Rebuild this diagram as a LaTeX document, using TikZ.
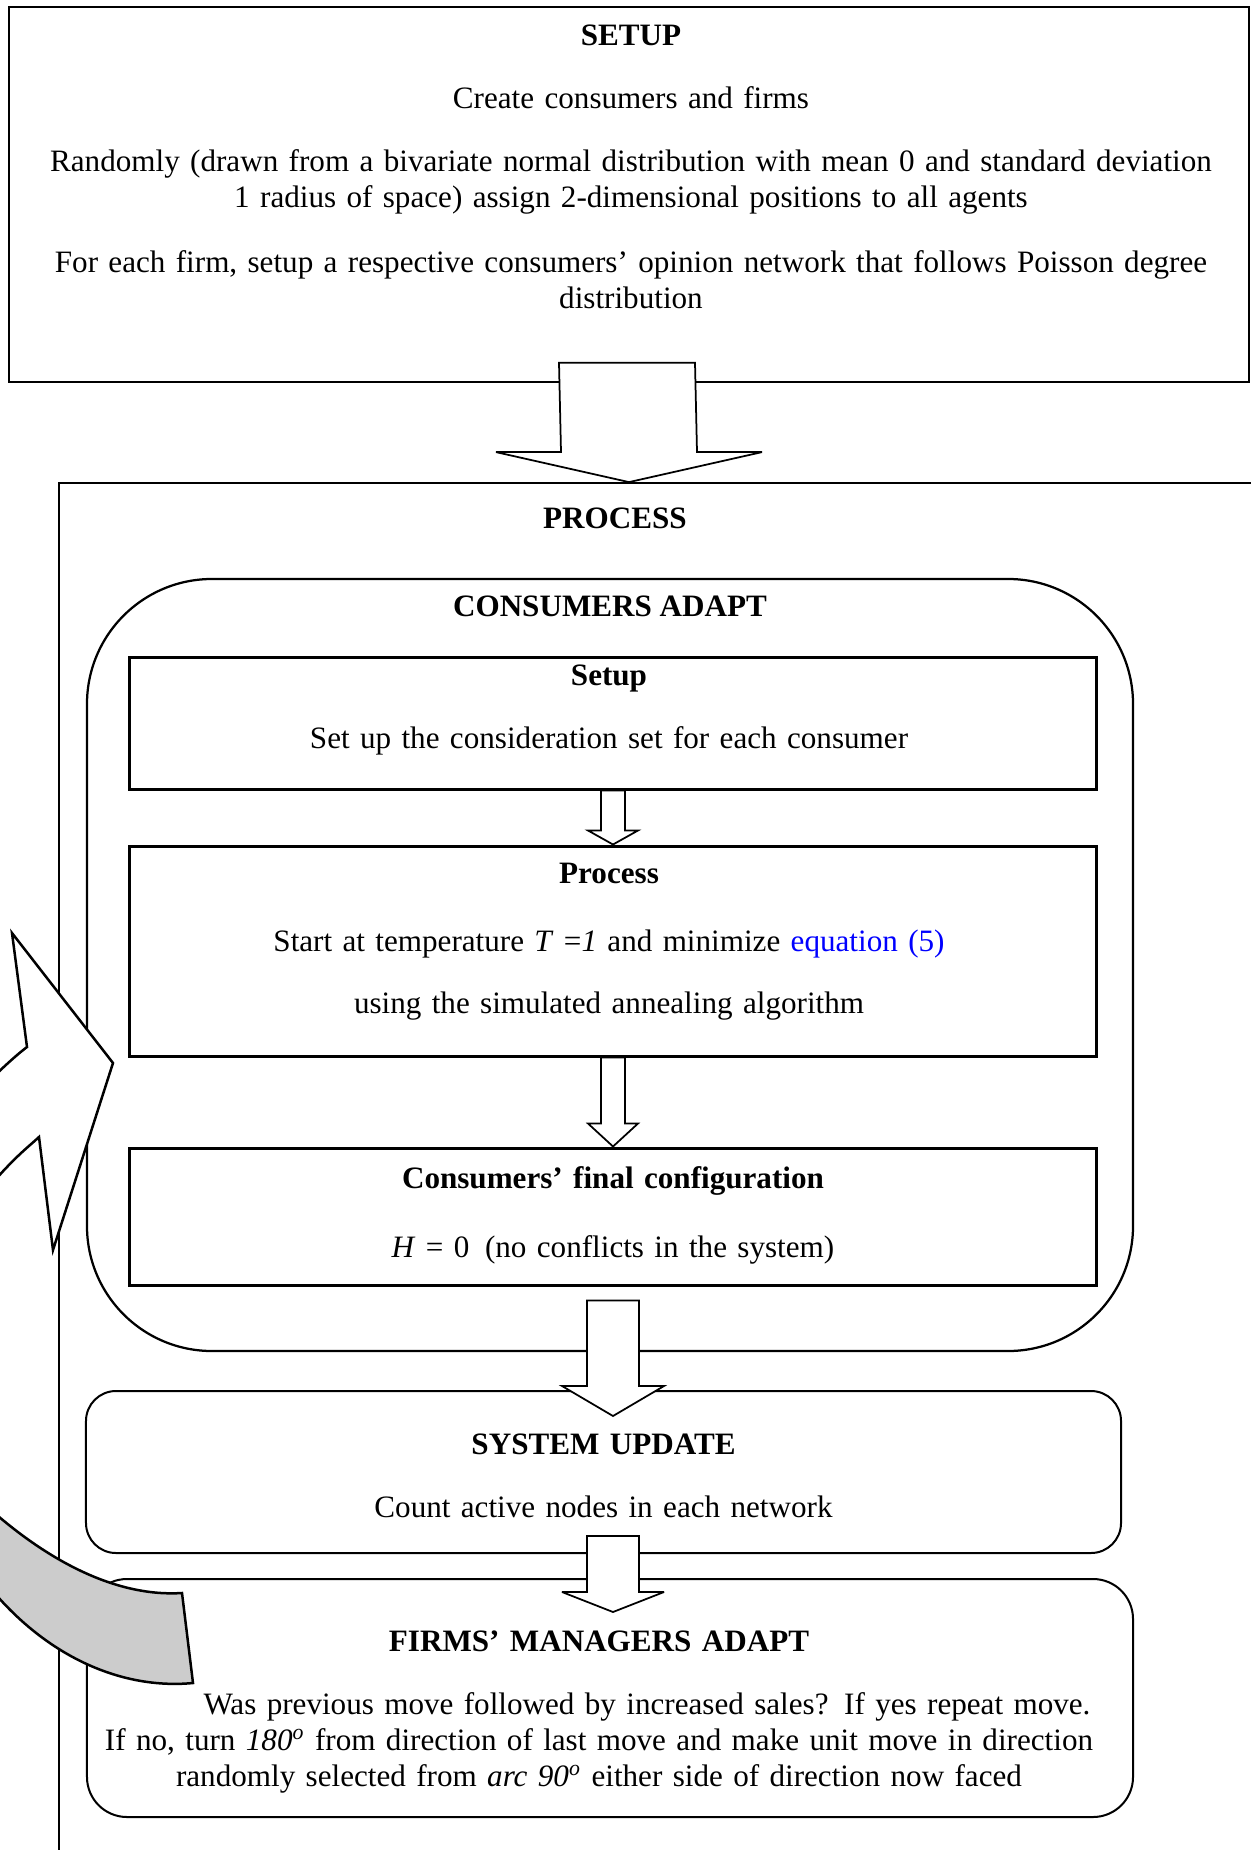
\documentclass[tikz,border=0pt]{standalone}
\usepackage{fontspec}
\setmainfont{Liberation Serif}
\usetikzlibrary{calc}

\begin{document}
\begin{tikzpicture}
		[x=0.4pt, y=-0.4pt,
		txt/.style = {inner sep=0pt, anchor=base, align=center, font=\fontsize{12.45}{14.4}\selectfont},
		outerbox/.style = {draw, line width=0.7pt, inner sep=0pt},
		innerbox/.style = {draw, line width=1.2pt, inner sep=0pt, minimum width=386.4pt},
		softbox/.style = {draw, line width=0.8pt, inner sep=0pt},
		blk/.style n args = {3}{draw, fill=white, line width=0.7pt, miter limit=4, to path={
			($(\tikztostart)+(-#1,0)$) -- ($(\tikztotarget)+(-#1,-#3)$) -- ($(\tikztotarget)+(-#2,-#3)$) -- (\tikztotarget)
			-- ($(\tikztotarget)+(#2,-#3)$) -- ($(\tikztotarget)+(#1,-#3)$) -- ($(\tikztostart)+(#1,0)$) -- cycle}}]
		\useasboundingbox (0,0) rectangle (1251,1850);
		\clip (0,0) rectangle (1251,1850);

		% boxes
		\node[outerbox, minimum width=496pt, minimum height=150pt] (setup) at (629,194.5) {};
		\node[outerbox, minimum width=496.4pt, minimum height=566.8pt] (proc) at (679.5,1191.5) {};
		\node[softbox, line width=0.9pt, rounded corners=50pt, minimum width=418.4pt, minimum height=308.8pt] (ca) at (610,965) {};
		\node[innerbox, minimum height=52.8pt] (setupin) at (613,723) {};
		\node[innerbox, minimum height=84pt] (procin) at (613,951) {};
		\node[innerbox, minimum height=54.8pt] (final) at (613,1216.5) {};
		\node[softbox, rounded corners=12pt, minimum width=414pt, minimum height=64.8pt] (su) at (603.5,1472) {};
		\node[softbox, rounded corners=16pt, minimum width=418.4pt, minimum height=95.2pt] (fma) at (610,1698) {};

		% block arrows
		\coordinate (t1) at (setup.south |- proc.north);
		\coordinate (s4) at ($(final.south)+(0,14)$);
		\coordinate (t4) at ($(final.south |- su.north)+(0,26)$);
		\coordinate (s5) at ($(final.south |- su.south)+(0,-18)$);
		\coordinate (t5) at ($(final.south |- fma.north)+(0,34)$);
		\draw[blk={68}{133}{30}] ($(setup.south)+(-2,-20)$) to (t1);
		\draw[blk={12}{25}{14}] (setupin.south) to (procin.north);
		\draw[blk={12}{25}{23}] (procin.south) to (final.north);
		\draw[blk={26}{51}{30}] (s4) to (t4);
		\draw[blk={26}{51}{20}] (s5) to (t5);

		% texts
		\node[txt, text width=490pt] (setuptxt) at ($(setup.north)+(2,39)$) {\textbf{SETUP}\\[10.8pt]
			Create consumers and firms\\[10.8pt]
			Randomly (drawn from a bivariate normal distribution with mean 0 and standard deviation\\
			1 radius of space) assign 2-dimensional positions to all agents\\[11.6pt]
			For each firm, setup a respective consumers’ opinion network that follows Poisson degree\\
			distribution};
		\node[txt] (proctxt) at ($(ca.north)+(5,-49)$) {\textbf{PROCESS}};
		\node[txt] (catxt) at ($(ca.north)+(0,39)$) {\textbf{CONSUMERS ADAPT}};
		\node[txt, text width=380pt] (setupintxt) at ($(setupin.north)+(-4,30)$) {\textbf{Setup}\\[10.8pt]
			Set up the consideration set for each consumer};
		\node[txt, text width=380pt] (procintxt) at ($(procin.north)+(-4,39)$) {\textbf{Process}\\[12.8pt]
			Start at temperature \textit{T} =\textit{1} and minimize \textcolor{blue}{equation (5)}\\[10.4pt]
			using the simulated annealing algorithm};
		\node[txt, text width=380pt] (finaltxt) at ($(final.north)+(0,42)$) {\textbf{Consumers’ final configuration}\\[13.2pt]
			\textit{H} = 0\, (no conflicts in the system)};
		\node[txt, text width=400pt] (sutxt) at ($(su.north)+(0,64)$) {\textbf{SYSTEM UPDATE}\\[10.8pt]
			Count active nodes in each network};
		\node[txt, text width=410pt] (fmatxt) at ($(fma.north)+(-11,73)$) {\textbf{FIRMS’ MANAGERS ADAPT}\\[10.8pt]
			\hspace*{38.4pt}Was previous move followed by increased sales? If yes repeat move.\\
			If no, turn \textit{180\textsuperscript{o}} from direction of last move and make unit move in direction\\
			randomly selected from \textit{arc 90\textsuperscript{o}} either side of direction now faced};

		% curved arrow back to the process
		\draw[line width=1pt, fill=gray!40] (182,1593) .. controls (120,1597) and (50,1565) .. (-20,1500)
			-- (-20,1575) .. controls (40,1655) and (120,1690) .. (193,1683) -- cycle;
		\draw[line width=1pt, fill=white] (-30,1100) .. controls (-10,1080) and (10,1060) .. (27,1047)
			-- (12,933) -- (113,1063) -- (53,1250) -- (39,1137) .. controls (25,1150) and (10,1160) .. (-30,1210) -- cycle;
	\end{tikzpicture}
\end{document}
